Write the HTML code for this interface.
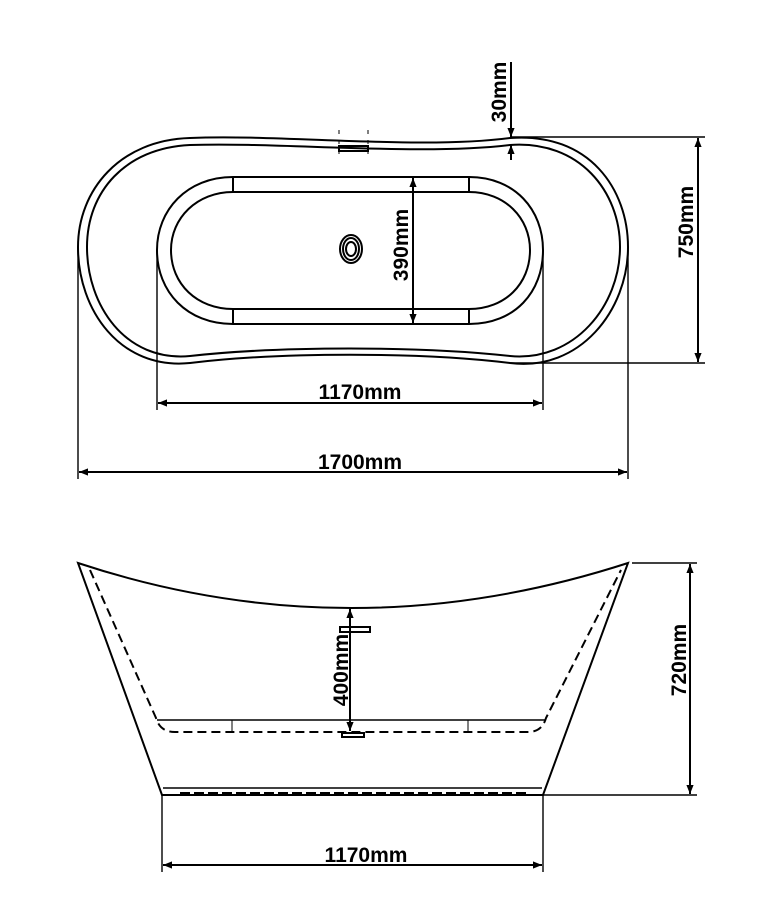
<!DOCTYPE html>
<html><head><meta charset="utf-8"><style>
html,body{margin:0;padding:0;background:#fff;}
svg{display:block;}
text{font-family:"Liberation Sans",sans-serif;font-size:21px;font-weight:bold;fill:#000;}
</style></head><body>
<svg width="777" height="900" viewBox="0 0 777 900" xmlns="http://www.w3.org/2000/svg">
<defs>
<marker id="a" viewBox="0 0 10 10" refX="10" refY="5" markerWidth="16" markerHeight="9" markerUnits="userSpaceOnUse" orient="auto-start-reverse"><path d="M0,1 L10,5 L0,9 z" fill="#000"/></marker>
</defs>
<g fill="none" stroke="#000" stroke-width="2">
<path d="M190,138 C280,134 420,150 510,138 C590,132 628,190 628,247 C628,310 580,372 510,363 C420,352 280,352 190,363 C120,370 78,310 78,247 C78,190 120,140 190,138 Z"/>
<path d="M190,145 C280,142 420,156 510,145 C580,140 620,192 620,247 C620,305 575,362 510,356 C420,346 280,346 190,356 C125,362 87,305 87,247 C87,192 125,148 190,145 Z"/>
<path d="M233,177 L469,177 C515,177 543,210 543,250 C543,292 515,324 469,324 L233,324 C187,324 157,292 157,250 C157,210 187,177 233,177 Z"/>
<path d="M233,192 L469,192 C505,192 530,218 530,250 C530,284 505,309 469,309 L233,309 C197,309 171,284 171,250 C171,218 197,192 233,192 Z"/>
<line x1="233" y1="177" x2="233" y2="192"/><line x1="469" y1="177" x2="469" y2="192"/>
<line x1="233" y1="309" x2="233" y2="324"/><line x1="469" y1="309" x2="469" y2="324"/>
<ellipse cx="351" cy="249" rx="11" ry="14"/><ellipse cx="351" cy="249" rx="8" ry="11"/><ellipse cx="351" cy="249" rx="5" ry="7"/>
<rect x="339" y="146" width="29" height="5"/>
<line x1="339" y1="130" x2="339" y2="160" stroke-dasharray="4,6" stroke-width="1"/>
<line x1="368" y1="130" x2="368" y2="160" stroke-dasharray="4,6" stroke-width="1"/>
<line x1="413" y1="178" x2="413" y2="323" marker-start="url(#a)" marker-end="url(#a)"/>
<line x1="511" y1="62" x2="511" y2="137" marker-end="url(#a)"/>
<line x1="511" y1="160" x2="511" y2="145" marker-end="url(#a)"/>
<line x1="511" y1="137" x2="705" y2="137" stroke-width="1.4"/>
<line x1="511" y1="363" x2="705" y2="363" stroke-width="1.4"/>
<line x1="698" y1="138" x2="698" y2="362" marker-start="url(#a)" marker-end="url(#a)"/>
<line x1="157" y1="250" x2="157" y2="410" stroke-width="1.4"/>
<line x1="543" y1="250" x2="543" y2="410" stroke-width="1.4"/>
<line x1="158" y1="403" x2="542" y2="403" marker-start="url(#a)" marker-end="url(#a)"/>
<line x1="78" y1="247" x2="78" y2="479" stroke-width="1.4"/>
<line x1="628" y1="247" x2="628" y2="479" stroke-width="1.4"/>
<line x1="79" y1="472" x2="627" y2="472" marker-start="url(#a)" marker-end="url(#a)"/>
<path d="M78,563 Q350,653 628,563 L543,795 L162,795 Z"/>
<path d="M90,570 L156,718 Q160,732 175,732 L528,732 Q542,732 546,718 L621,570" stroke-dasharray="9,5"/>
<line x1="157" y1="720" x2="545" y2="720" stroke-width="1.4"/>
<line x1="232" y1="720" x2="232" y2="732" stroke-width="1"/><line x1="468" y1="720" x2="468" y2="732" stroke-width="1"/>
<line x1="163" y1="788" x2="542" y2="788" stroke-width="1.4"/>
<line x1="180" y1="793" x2="530" y2="793" stroke-dasharray="10,4"/>
<rect x="340" y="627" width="30" height="5"/>
<rect x="342" y="733" width="22" height="4"/>
<line x1="350" y1="609" x2="350" y2="731" marker-start="url(#a)" marker-end="url(#a)"/>
<line x1="632" y1="563" x2="697" y2="563" stroke-width="1.4"/>
<line x1="543" y1="795" x2="697" y2="795" stroke-width="1.4"/>
<line x1="690" y1="564" x2="690" y2="794" marker-start="url(#a)" marker-end="url(#a)"/>
<line x1="162" y1="795" x2="162" y2="872" stroke-width="1.4"/>
<line x1="543" y1="795" x2="543" y2="872" stroke-width="1.4"/>
<line x1="163" y1="865" x2="542" y2="865" marker-start="url(#a)" marker-end="url(#a)"/>
</g>
<text x="360" y="399" text-anchor="middle">1170mm</text>
<text x="360" y="469" text-anchor="middle">1700mm</text>
<text x="366" y="862" text-anchor="middle">1170mm</text>
<text transform="translate(506,92) rotate(-90)" text-anchor="middle">30mm</text>
<text transform="translate(408,245) rotate(-90)" text-anchor="middle">390mm</text>
<text transform="translate(693,222) rotate(-90)" text-anchor="middle">750mm</text>
<text transform="translate(348,670) rotate(-90)" text-anchor="middle">400mm</text>
<text transform="translate(686,660) rotate(-90)" text-anchor="middle">720mm</text>
</svg>
</body></html>
